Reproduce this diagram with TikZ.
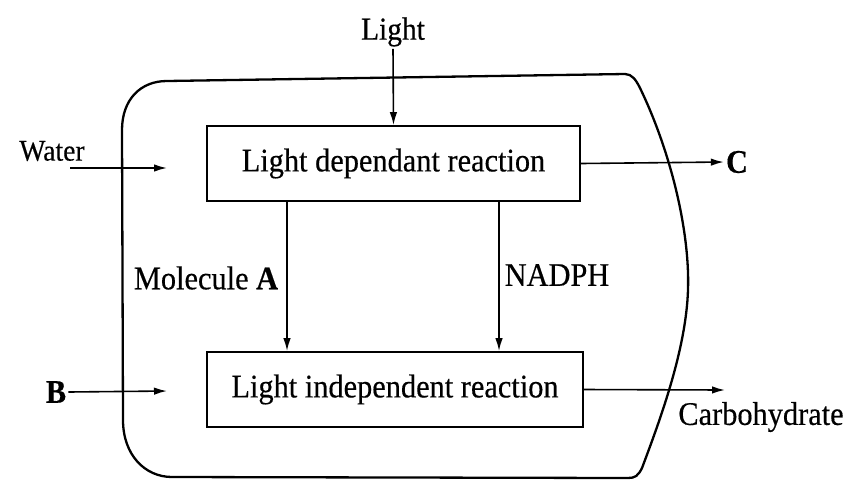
\documentclass[tikz,border=0pt]{standalone}
\usepackage{fontspec}
\setmainfont[FakeStretch=0.92,FakeBold=0.4]{Liberation Serif}
\usetikzlibrary{arrows.meta}

\begin{document}
\begin{tikzpicture}[x=1pt,y=-1pt,
  lbl/.style={inner sep=2pt,font=\fontsize{33}{38}\selectfont},
  box/.style={draw,line width=1.8pt,inner sep=0pt,font=\fontsize{33}{38}\selectfont},
  arr/.style={line width=1.6pt,-{Latex[length=13pt,width=7.5pt]}},
  wall/.style={line width=2.3pt,line join=round}]
\useasboundingbox (0,0) rectangle (866,483);

% cell outline
\draw[wall] (167,81) -- (625,74)
  .. controls (632,74) and (636,80) .. (640,88)
  .. controls (670,150) and (690,230) .. (688,290)
  .. controls (686,350) and (660,420) .. (642,468)
  .. controls (638,476) and (635,478) .. (628,478)
  -- (172,477)
  .. controls (145,477) and (123,455) .. (123,420)
  -- (122,130)
  .. controls (122,100) and (140,81) .. (167,81) -- cycle;

% reaction boxes
\node[box,minimum width=373pt,minimum height=75pt] (ld) at (393.5,163.5) {Light dependant reaction};
\node[box,minimum width=376pt,minimum height=75pt] (li) at (395,389.5) {Light independent reaction};

% labels
\node[lbl,font=\fontsize{32}{38}\selectfont] (light) at (393,32) {Light};
\node[lbl,font=\fontsize{30}{36}\selectfont] (water) at (52,151) {Water};
\node[lbl] (B) at (56,392) {\textbf{B}};
\node[lbl] (C) at (737,162) {\textbf{C}};
\node[lbl] (molA) at (206,278) {Molecule \textbf{A}};
\node[lbl] (nadph) at (557,275) {NADPH};
\node[lbl] (carb) at (761,417) {Carbohydrate};

% free ends
\coordinate (w0) at (70,168);
\coordinate (w1) at (167,168);
\coordinate (b1) at (167,391);
\coordinate (c1) at (725,390);
\coordinate (xa) at (287,0);
\coordinate (xn) at (499,0);

% connectors
\draw[arr] (light.south) -- (ld.north);
\draw[arr] (w0) -- (w1);
\draw[arr] (B.east) -- (b1);
\draw[arr] (ld.east) -- (C.west);
\draw[arr] (ld.south -| xa) -- (li.north -| xa);
\draw[arr] (ld.south -| xn) -- (li.north -| xn);
\draw[arr] (li.east) -- (c1);
\end{tikzpicture}
\end{document}
